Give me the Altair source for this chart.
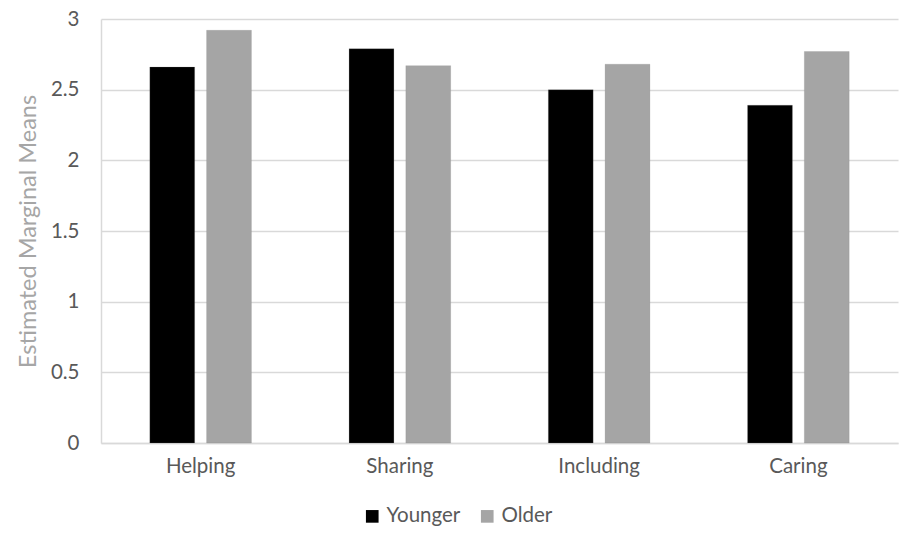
import altair as alt
import pandas as pd

# Estimated marginal means by prosocial behaviour and age group
behaviours = ["Helping", "Sharing", "Including", "Caring"]
younger = [2.66, 2.79, 2.50, 2.39]
older = [2.92, 2.67, 2.68, 2.77]
groups = ["Younger", "Older"]
group_colors = ["#000000", "#A5A5A5"]
y_ticks = [0, 0.5, 1, 1.5, 2, 2.5, 3]

rows = []
for b, yv, ov in zip(behaviours, younger, older):
    rows.append({"behaviour": b, "group": "Younger", "mean": yv})
    rows.append({"behaviour": b, "group": "Older", "mean": ov})
df = pd.DataFrame(rows)

FONT = "Lato"
LABEL = "#595959"
SIZE = 20.5

chart = alt.Chart(df).mark_bar(stroke="#7f7f7f", strokeWidth=0.5, strokeOpacity=0.4).encode(
    x=alt.X(
        "behaviour:N",
        sort=behaviours,
        title=None,
        scale=alt.Scale(paddingInner=0.49, paddingOuter=0.245),
        axis=alt.Axis(
            labelAngle=0, labelFont=FONT, labelFontSize=SIZE, labelColor=LABEL,
            labelPadding=13, ticks=False, domainColor="#D9D9D9", domainWidth=1.5,
        ),
    ),
    xOffset=alt.XOffset("group:N", sort=groups,
                        scale=alt.Scale(paddingInner=0.21, paddingOuter=0)),
    y=alt.Y(
        "mean:Q",
        title="Estimated Marginal Means",
        scale=alt.Scale(domain=[0, 3], nice=False),
        axis=alt.Axis(
            values=y_ticks, format="~g", labelFont=FONT, labelFontSize=SIZE,
            labelColor=LABEL, labelPadding=22, ticks=False,
            domainColor="#D9D9D9", domainWidth=1.5,
            gridColor="#D9D9D9", gridWidth=1.5,
            titleFont=FONT, titleFontSize=23.5, titleFontWeight="normal",
            titleColor="#A6A6A6", titlePadding=10,
        ),
    ),
    color=alt.Color(
        "group:N",
        sort=groups,
        scale=alt.Scale(domain=groups, range=group_colors),
        legend=alt.Legend(
            title=None, orient="none", direction="horizontal",
            legendX=261, legendY=487, symbolType="square", symbolSize=160,
            symbolStrokeWidth=0, labelFont=FONT, labelFontSize=SIZE,
            labelColor=LABEL, columnPadding=16, labelOffset=4,
        ),
    ),
).properties(
    width=797,
    height=424,
    padding={"left": 101, "top": 19, "right": 1, "bottom": 97},
    autosize=alt.AutoSizeParams(type="none"),
).configure_view(stroke=None)

chart.save("out.html", embed_options={"renderer": "svg", "actions": False})
